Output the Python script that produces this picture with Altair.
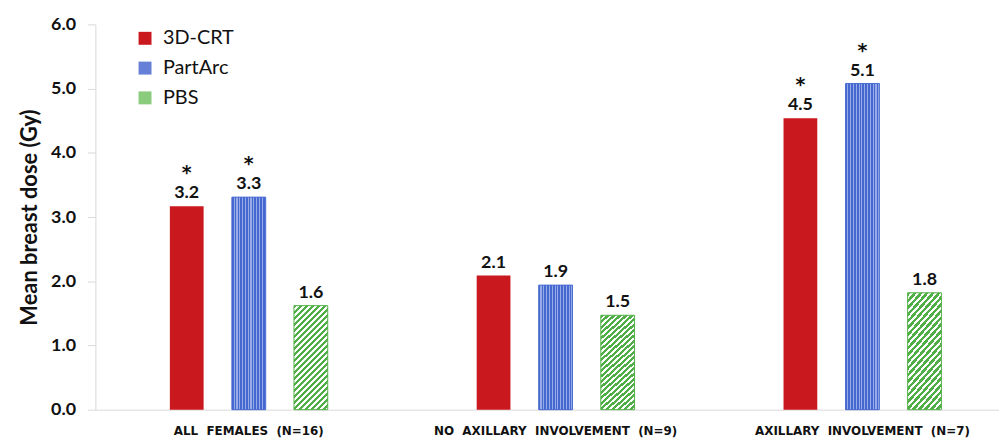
import altair as alt
import pandas as pd

# ---- data ----
groups = [
    "ALL\u00a0 FEMALES\u00a0 (N=16)",
    "NO\u00a0 AXILLARY\u00a0 INVOLVEMENT\u00a0 (N=9)",
    "AXILLARY\u00a0 INVOLVEMENT\u00a0 (N=7)",
]
series = ["3D-CRT", "PartArc", "PBS"]
crt_values = [3.17, 2.09, 4.54]
partarc_values = [3.31, 1.94, 5.08]
pbs_values = [1.62, 1.47, 1.82]
crt_sig = ["*", "", "*"]
partarc_sig = ["*", "", "*"]
pbs_sig = ["", "", ""]
y_ticks = [0, 1, 2, 3, 4, 5, 6]

series_colors = ["#c9191e", "#6580d6", "#8acb7c"]

rows = []
for vals, sigs, name in [(crt_values, crt_sig, "3D-CRT"),
                         (partarc_values, partarc_sig, "PartArc"),
                         (pbs_values, pbs_sig, "PBS")]:
    for g, v, s in zip(groups, vals, sigs):
        rows.append({"group": g, "series": name, "value": v, "sig": s})
df = pd.DataFrame(rows)

# ---- pattern-like fills built from gradients ----
def stripes(n, c1, c2, frac):
    stops = []
    for i in range(n):
        a = i / n
        b = (i + frac) / n
        c = (i + 1) / n
        stops += [{"offset": a, "color": c1}, {"offset": b, "color": c1},
                  {"offset": b, "color": c2}, {"offset": c, "color": c2}]
    return stops

blue_fill = {"gradient": "linear", "x1": 0, "y1": 0, "x2": 1, "y2": 0,
             "stops": stripes(12, "#4468d0", "#97abe9", 0.6)}
green_fill = {"gradient": "linear", "x1": 0, "y1": 0, "x2": 0.388, "y2": 1.198,
              "stops": stripes(23, "#4fae45", "#ffffff", 0.55)}

x_enc = alt.X(
    "group:N", sort=groups,
    scale=alt.Scale(domain=groups, range=[0, 927], paddingInner=0, paddingOuter=0),
    axis=alt.Axis(title=None, labelAngle=0, ticks=False, tickSize=0, grid=False,
                  domainColor="#d9d9d9", domainWidth=1,
                  labelFont="DejaVu Sans", labelFontWeight="bold", labelFontSize=12,
                  labelColor="#111111", labelPadding=16, labelLimit=0),
)
xo_enc = alt.XOffset("series:N", sort=series,
                     scale=alt.Scale(domain=series, range=[75, 234],
                                     paddingInner=0.456, paddingOuter=0))
y_enc = alt.Y(
    "value:Q",
    scale=alt.Scale(domain=[0, 6], nice=False),
    axis=alt.Axis(values=y_ticks, format=".1f", grid=False, tickSize=8,
                  tickColor="#d9d9d9", domainColor="#d9d9d9",
                  labelFont="Lato", labelFontWeight="bold", labelFontSize=18,
                  labelColor="#111111", labelPadding=12,
                  title="Mean breast dose (Gy)", titleFont="Lato", titleFontSize=22,
                  titleFontWeight="bold", titleColor="#111111",
                  titleX=-66, titleY=194, titleBaseline="middle", titleAlign="center"),
)

base = alt.Chart(df).mark_bar().encode(
    x=x_enc, xOffset=xo_enc, y=y_enc,
    color=alt.Color("series:N", sort=series,
                    scale=alt.Scale(domain=series, range=series_colors),
                    legend=alt.Legend(title=None, orient="none", legendX=40, legendY=4,
                                      symbolType="square", symbolSize=170,
                                      symbolStrokeWidth=0, labelFont="Lato",
                                      labelFontSize=20, labelColor="#111111",
                                      rowPadding=10, labelOffset=8)),
)

blue = alt.Chart(df).transform_filter(alt.datum.series == "PartArc").mark_bar(
    fill=blue_fill, stroke="#4a6cd0", strokeWidth=1
).encode(x=x_enc, xOffset=xo_enc, y=y_enc)

green = alt.Chart(df).transform_filter(alt.datum.series == "PBS").mark_bar(
    fill=green_fill, stroke="#55b04a", strokeWidth=1
).encode(x=x_enc, xOffset=xo_enc, y=y_enc)

labels = alt.Chart(df).mark_text(
    font="Lato", fontWeight="bold", fontSize=18, dy=-8, baseline="alphabetic",
    color="#111111"
).encode(x=x_enc, xOffset=xo_enc, y=y_enc,
         text=alt.Text("value:Q", format=".1f"))

stars = alt.Chart(df).transform_filter(alt.datum.sig != "").mark_text(
    font="DejaVu Sans", fontWeight="bold", fontSize=19, dy=-27, baseline="alphabetic",
    color="#111111"
).encode(x=x_enc, xOffset=xo_enc, y=y_enc, text="sig:N")

chart = alt.layer(base, blue, green, labels, stars).properties(
    width=910, height=388,
    autosize=alt.AutoSizeParams(type="none"),
    padding={"left": 88, "top": 15, "right": 0, "bottom": 28},
    background="white",
).configure_view(stroke=None)

chart.save("out.html", embed_options={"renderer": "svg", "actions": False})
